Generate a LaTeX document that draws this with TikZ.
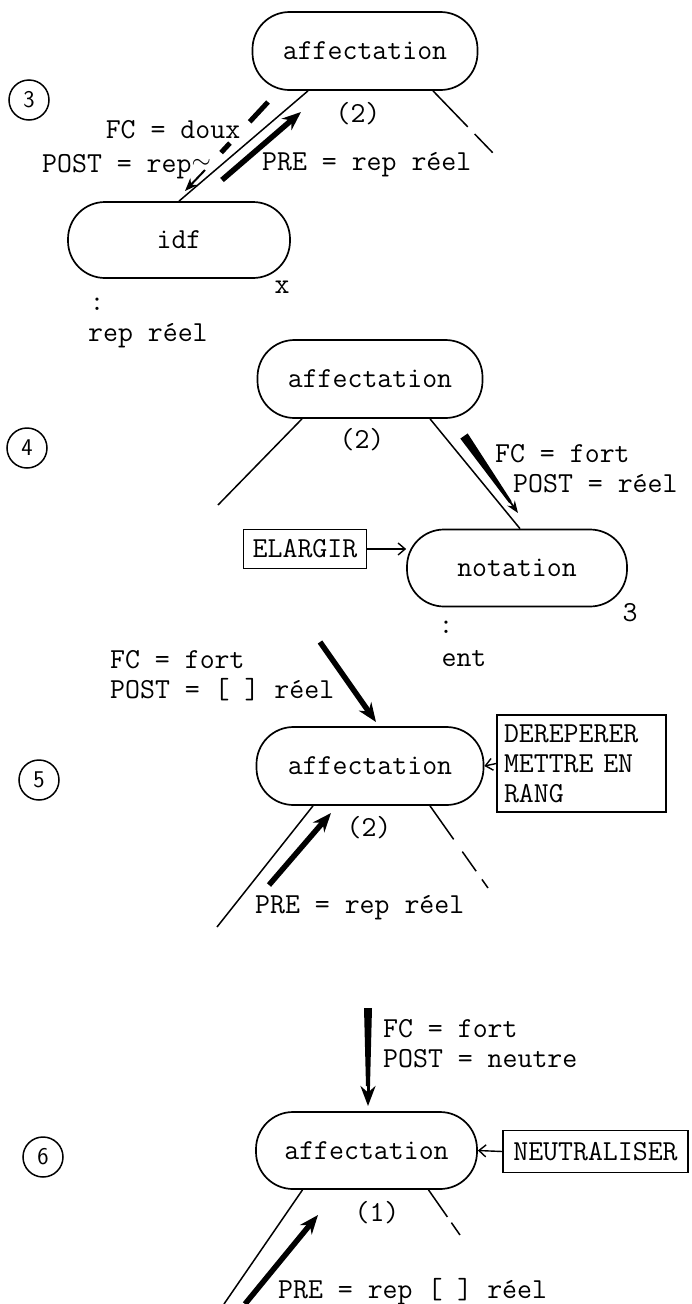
\documentclass[tikz,border=0pt]{standalone}
\usepackage{fontspec}
\setmonofont{Latin Modern Mono}
\usetikzlibrary{arrows.meta,calc}
\begin{document}
\begin{tikzpicture}[x=1pt,y=-1pt,
  every node/.style={font=\ttfamily\fontsize{29}{30}\selectfont},
  pill/.style={draw, line width=1.7pt, rounded corners=37pt, minimum width=225pt, minimum height=78pt, inner sep=0pt},
  tbox/.style={draw, line width=1.4pt, inner xsep=9pt, inner ysep=10pt},
  branch/.style={line width=1.5pt},
  thickarrow/.style={line width=5.5pt, -{Stealth[length=19pt,width=15pt]}},
  smallarrow/.style={line width=1.4pt, -{Straight Barb[length=7pt,width=12pt]}},
  nump/.style={draw, circle, line width=1.5pt, minimum size=40pt, inner sep=0pt, font=\sffamily\fontsize{24}{24}\selectfont},
  lbl/.style={anchor=base west, inner sep=0pt},
  clbl/.style={anchor=base, inner sep=0pt}]
\useasboundingbox (0,0) rectangle (692,1304);

% ---------------- step 3 ----------------
\node[nump] (c3) at (29,100) {3};
\node[pill] (a3) at (365,51) {affectation};
\node[pill, minimum width=222pt, minimum height=76pt] (i3) at (179,240) {idf};
\node[clbl] (p3) at (358,122) {(2)};
\node[clbl] (fc3) at (173,138) {FC = doux};
\node[lbl] (post3) at (42,172) {POST = rep\raisebox{4pt}{$\sim$}};
\node[lbl] (pre3) at (262,170) {PRE = rep réel};
\node[clbl] (x3) at (282,293) {x};
\node[clbl] (d3) at (97,310) {:};
\node[lbl] (v3) at (88,341) {rep réel};
\coordinate (r3) at (493,153);
\draw[branch] ([xshift=-57pt]a3.south) -- (i3.north);
\draw[branch, dash pattern=on 50pt off 10pt on 26pt off 100pt] ([xshift=68pt]a3.south) -- (r3);
\coordinate (ds3) at (268,102);
\coordinate (de3) at (205,170);
\coordinate (dt3) at (185,191);
\draw[line width=5pt, dash pattern=on 27pt off 29pt on 13pt off 200pt] (ds3) -- (de3);
\draw[line width=2pt, -{Stealth[length=13pt,width=10pt]}] (de3) -- (dt3);
\coordinate (us3) at (222,180);
\coordinate (ue3) at (301,112);
\draw[thickarrow] (us3) -- (ue3);

% ---------------- step 4 ----------------
\node[nump] (c4) at (27,448) {4};
\node[pill] (a4) at (370,379) {affectation};
\node[clbl] (p4) at (362,448) {(2)};
\node[lbl] (fc4) at (495,462) {FC = fort};
\node[lbl] (post4) at (513,492) {POST = réel};
\node[tbox] (el) at (305,549) {ELARGIR};
\node[pill, minimum width=220pt, minimum height=77pt] (n4) at (517,568) {notation};
\node[clbl] (k4) at (630,621) {3};
\node[clbl] (d4) at (446,633) {:};
\node[clbl] (v4) at (464,666) {ent};
\coordinate (l4) at (218,505);
\draw[branch] ([xshift=-68pt]a4.south) -- (l4);
\draw[branch] ([xshift=60pt]a4.south) -- ([xshift=3pt]n4.north);
\coordinate (ts4) at (464,436);
\coordinate (te4) at (518,513);
\coordinate (tm4) at ($(ts4)!0.86!(te4)$);
\fill ($(ts4)!4.5pt!90:(te4)$) -- ($(ts4)!4.5pt!-90:(te4)$) -- ($(tm4)!1.5pt!90:(ts4)$) -- ($(tm4)!1.5pt!-90:(ts4)$) -- cycle;
\draw[line width=1.8pt, -{Stealth[length=12pt,width=9pt]}] ($(tm4)!3pt!(ts4)$) -- (te4);
\draw[smallarrow] (el.east) -- (el.east -| n4.west);

% ---------------- step 5 ----------------
\node[nump] (c5) at (39,780) {5};
\node[lbl] (fc5) at (110,668) {FC = fort};
\node[lbl] (post5) at (110,698) {POST = [ ] réel};
\node[pill, minimum width=227pt] (a5) at (370,766) {affectation};
\node[tbox, align=left, text width=155pt, inner xsep=7pt, inner ysep=9.5pt] (dr) at (581.5,763.5) {DEREPERER\\METTRE EN\\RANG};
\node[clbl] (p5) at (369,836) {(2)};
\node[lbl] (pre5) at (255,913) {PRE = rep réel};
\coordinate (ts5) at (320,642);
\coordinate (te5) at (376,722);
\draw[thickarrow] (ts5) -- (te5);
\coordinate (l5) at (217,927);
\draw[branch] ([xshift=-57pt]a5.south) -- (l5);
\coordinate (r5) at (488,888);
\draw[branch, dash pattern=on 41pt off 15pt on 24pt off 10pt on 11pt off 100pt] ([xshift=60pt]a5.south) -- (r5);
\coordinate (us5) at (269,885);
\coordinate (ue5) at (331,813);
\draw[thickarrow] (us5) -- (ue5);
\draw[smallarrow] (dr.west) -- (a5.east);

% ---------------- step 6 ----------------
\node[nump] (c6) at (43,1157) {6};
\coordinate (ts6) at (368,1008);
\coordinate (tb6) at (368,1086);
\coordinate (te6) at (368,1106);
\fill ($(ts6)!4pt!90:(tb6)$) -- ($(ts6)!4pt!-90:(tb6)$) -- ($(tb6)!2pt!90:(ts6)$) -- ($(tb6)!2pt!-90:(ts6)$) -- cycle;
\draw[line width=3pt, -{Stealth[length=20pt,width=15pt]}] ($(tb6)!4pt!(ts6)$) -- (te6);
\node[lbl] (fc6) at (383,1037) {FC = fort};
\node[lbl] (post6) at (383,1067) {POST = neutre};
\node[pill, minimum width=221pt, minimum height=77pt] (a6) at (366.5,1150.5) {affectation};
\node[tbox, inner xsep=10.5pt, inner ysep=11.5pt] (ne) at (595.5,1151.5) {NEUTRALISER};
\draw[smallarrow] (ne.west) -- (a6.east);
\node[clbl] (p6) at (377,1221) {(1)};
\coordinate (l6) at (224,1304);
\draw[branch] ([xshift=-64pt]a6.south) -- (l6);
\coordinate (r6) at (460,1235);
\draw[branch, dash pattern=on 33pt off 7pt on 15pt off 100pt] ([xshift=62pt]a6.south) -- (r6);
\coordinate (us6) at (245,1304);
\coordinate (ue6) at (318,1215);
\draw[thickarrow] (us6) -- (ue6);
\node[lbl] (pre6) at (278,1298) {PRE = rep [ ] réel};
\end{tikzpicture}
\end{document}
